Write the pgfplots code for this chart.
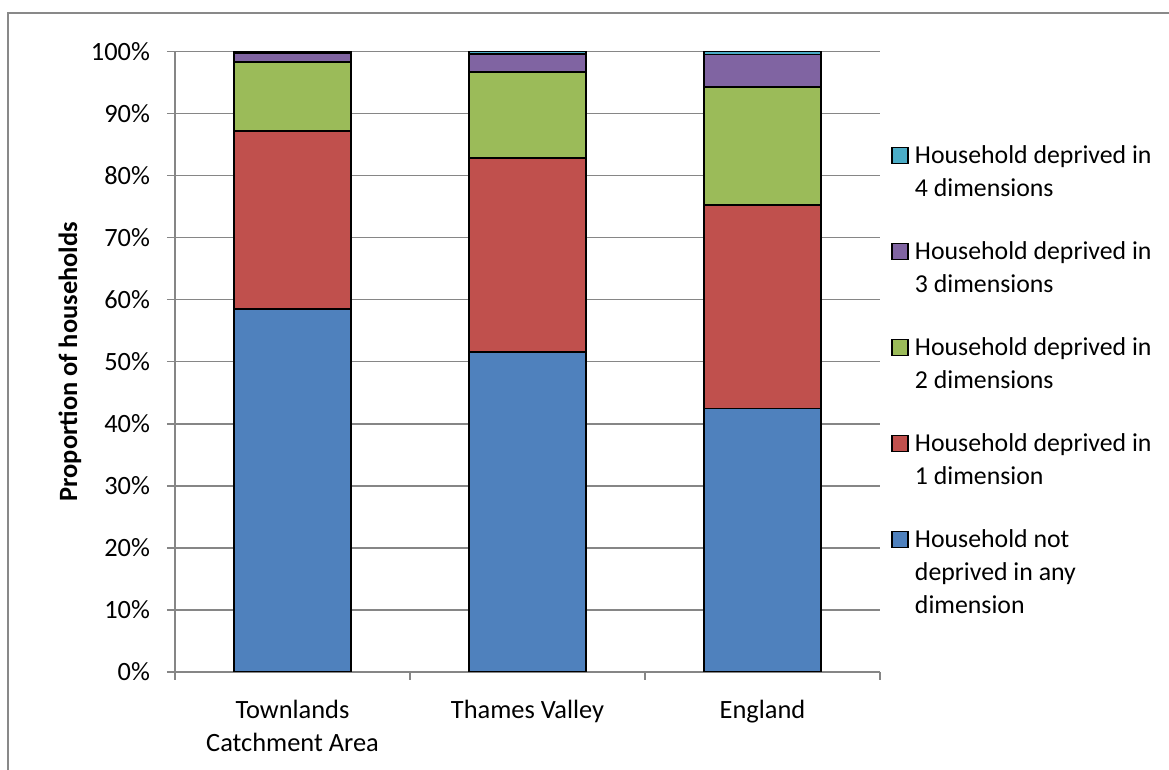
\documentclass[border=0pt]{standalone}
\usepackage{pgfplots}
\pgfplotsset{compat=1.18}
\usepackage{fontspec}
\setmainfont{Carlito}

\definecolor{depzero}{HTML}{4F81BD}
\definecolor{depone}{HTML}{C0504D}
\definecolor{deptwo}{HTML}{9BBB59}
\definecolor{depthree}{HTML}{8064A2}
\definecolor{depfour}{HTML}{4BACC6}
\definecolor{framegray}{HTML}{898989}
\definecolor{gridgray}{HTML}{868686}

% share of households by number of deprivation dimensions (percent)
% x: 0 = Townlands Catchment Area, 1 = Thames Valley, 2 = England
\pgfplotstableread{
x  none  one   two   three four
0  58.5  28.7  11.1  1.5   0.2
1  51.6  31.2  13.9  2.9   0.4
2  42.5  32.8  19.0  5.2   0.5
}\deprivation

\begin{document}
\begin{tikzpicture}[font=\fontsize{13.2pt}{16.5pt}\selectfont]
\useasboundingbox (0,0) rectangle (584.5pt,385pt);
% chart area frame
\draw[framegray, line width=0.9pt] (4pt,-2pt) -- (4pt,378.5pt) -- (590pt,378.5pt);
\begin{axis}[
  at={(87.5pt,49pt)}, anchor=south west,
  scale only axis, width=352.5pt, height=310.2pt,
  ybar stacked, bar width=0.5,
  xmin=-0.5, xmax=2.5, ymin=0, ymax=100,
  xtick={-0.5,0.5,1.5,2.5}, xticklabels={,,,},
  extra x ticks={0,1,2},
  extra x tick labels={{Townlands\\Catchment Area},{Thames Valley},{England}},
  extra x tick style={major tick length=0pt, grid=none,
    xticklabel style={align=center, yshift=-10.5pt}},
  ytick={0,10,...,100},
  yticklabel={\pgfmathprintnumber[assume math mode=true]{\tick}\%},
  yticklabel style={xshift=-5pt},
  ymajorgrids, grid style={gridgray, line width=0.7pt},
  axis x line*=bottom, axis y line*=left,
  axis line style={gridgray, line width=0.7pt, -},
  tick style={gridgray, line width=0.7pt},
  tick align=outside, major tick length=4pt,
  ylabel={\bfseries Proportion of households},
  ylabel style={yshift=-2pt},
  every axis plot/.append style={draw=black, line width=0.8pt},
  legend image code/.code={\draw[#1, draw=black, line width=0.8pt] (0pt,-2.5pt) rectangle (8pt,5.5pt);},
  legend cell align=left,
  legend style={draw=none, fill=none, at={(1.0156,0.855)}, anchor=north west,
    inner sep=0pt, /tikz/column sep=3pt,
    nodes={inner sep=0pt, text height=11pt, text depth=5.5pt,
      font=\fontsize{12.9pt}{16.5pt}\selectfont}},
]
\addplot[fill=depzero, forget plot]  table[x=x, y=none]  {\deprivation};
\addplot[fill=depone, forget plot]   table[x=x, y=one]   {\deprivation};
\addplot[fill=deptwo, forget plot]   table[x=x, y=two]   {\deprivation};
\addplot[fill=depthree, forget plot] table[x=x, y=three] {\deprivation};
\addplot[fill=depfour, forget plot]  table[x=x, y=four]  {\deprivation};
% legend, most deprived first, one row per text line, short gap rows between entries
\addlegendimage{fill=depfour}   \addlegendentry{Household deprived in}
\addlegendimage{empty legend}   \addlegendentry{4 dimensions}
\addlegendimage{empty legend}   \addlegendentry[text height=9.5pt]{~}
\addlegendimage{fill=depthree}  \addlegendentry{Household deprived in}
\addlegendimage{empty legend}   \addlegendentry{3 dimensions}
\addlegendimage{empty legend}   \addlegendentry[text height=9.5pt]{~}
\addlegendimage{fill=deptwo}    \addlegendentry{Household deprived in}
\addlegendimage{empty legend}   \addlegendentry{2 dimensions}
\addlegendimage{empty legend}   \addlegendentry[text height=9.5pt]{~}
\addlegendimage{fill=depone}    \addlegendentry{Household deprived in}
\addlegendimage{empty legend}   \addlegendentry{1 dimension}
\addlegendimage{empty legend}   \addlegendentry[text height=9.5pt]{~}
\addlegendimage{fill=depzero}   \addlegendentry{Household not}
\addlegendimage{empty legend}   \addlegendentry{deprived in any}
\addlegendimage{empty legend}   \addlegendentry{dimension}
\end{axis}
\end{tikzpicture}
\end{document}
